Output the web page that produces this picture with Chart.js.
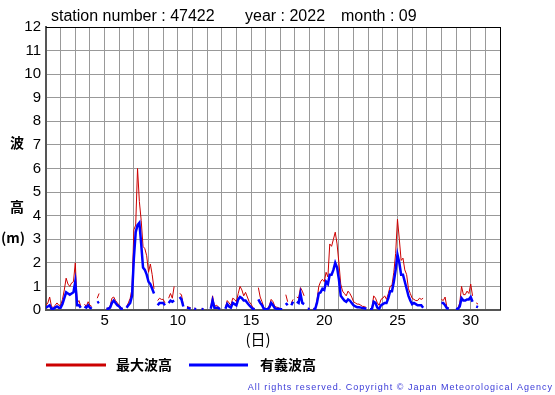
<!DOCTYPE html>
<html>
<head>
<meta charset="utf-8">
<script src="https://cdn.jsdelivr.net/npm/chart.js@4"></script>
<style>
  html, body { margin: 0; padding: 0; background: #fff; }
  #wave { display: block; }
</style>
</head>
<body>
<canvas id="wave" width="555" height="395"></canvas>
<script>
// 3-hourly readings, 8 per day, Sept 1 .. Sept 30 (null = no data)
const pointsPerDay = 8;
const firstDay = 1;

// 最大波高 (max wave height, m)
const maxWave = [
  0.2, 0.3, 0.55, 0.15, 0.1, 0.2, 0.3, 0.2,
  0.2, 0.45, 0.85, 1.35, 1.1, 1.0, 1.15, 1.2,
  2.0, 0.3, 0.4, 0.15, null, 0.25, 0.15, 0.35,
  0.2, 0.15, null, null, 0.5, 0.7, null, null,
  null, 0.05, 0.1, 0.15, 0.5, 0.55, 0.4, 0.3,
  0.2, 0.1, 0.05, null, 0.15, 0.3, 0.5, 0.9,
  3.4, 3.6, 6.0, 4.6, 3.8, 2.7, 2.6, 2.3,
  1.6, 1.95, 1.5, 0.9, null, 0.4, 0.5, 0.45,
  0.45, 0.3, null, 0.5, 0.7, 0.5, 1.0, null,
  null, 0.7, 0.65, 0.2, null, 0.15, 0.12, 0.1,
  null, 0.08, 0.05, null, null, 0.06, 0.05, null,
  null, null, 0.1, 0.6, 0.15, 0.2, 0.15, 0.05,
  null, null, 0.1, 0.4, 0.3, 0.2, 0.5, 0.45,
  0.35, 0.7, 1.0, 0.85, 0.6, 0.75, 0.55, 0.35,
  0.25, 0.1, 0.05, null, 0.95, 0.55, 0.35, 0.1,
  0.05, 0.05, 0.2, 0.45, 0.35, 0.15, 0.12, 0.1,
  0.05, 0.05, null, 0.65, 0.35, null, 0.3, 0.45,
  null, 0.55, 0.5, 0.95, 0.8, 0.6, null, 0.08,
  0.05, null, 0.06, 0.05, 0.4, 1.0, 1.2, 1.3,
  1.2, 1.6, 1.4, 2.8, 2.7, 3.0, 3.3, 2.8,
  2.0, 1.1, 0.8, 0.7, 0.6, 0.8, 0.7, 0.55,
  0.35, 0.3, 0.25, 0.25, 0.2, 0.15, 0.15, 0.1,
  null, 0.05, 0.05, 0.6, 0.5, 0.3, 0.2, 0.45,
  0.5, 0.6, 0.45, 0.7, 1.0, 1.05, 1.6, 2.4,
  3.85, 3.0, 2.1, 2.2, 1.7, 1.5, 0.9, 0.7,
  0.5, 0.45, 0.4, 0.4, 0.5, 0.45, 0.5, null,
  null, null, null, null, null, null, null, null,
  0.45, 0.4, 0.55, 0.1, 0.1, null, null, null,
  0.05, 0.08, 0.3, 1.0, 0.65, 0.65, 0.8, 0.7,
  1.1, 0.6, null, 0.3, 0.25, null, null, null
];

// 有義波高 (significant wave height, m)
const sigWave = [
  0.1, 0.15, 0.2, 0.05, 0.05, 0.1, 0.15, 0.1,
  0.1, 0.25, 0.5, 0.75, 0.7, 0.65, 0.7, 0.75,
  1.2, 0.2, 0.2, 0.1, null, 0.15, 0.1, 0.2,
  0.1, 0.05, null, null, 0.3, 0.35, null, null,
  null, 0.05, 0.05, 0.1, 0.3, 0.4, 0.3, 0.2,
  0.15, 0.05, 0.05, null, 0.1, 0.2, 0.3, 0.6,
  2.2, 3.3, 3.6, 3.7, 2.8, 1.8, 1.7, 1.5,
  1.2, 1.1, 0.9, 0.7, null, 0.2, 0.3, 0.3,
  0.3, 0.2, null, 0.3, 0.4, 0.35, 0.4, null,
  null, 0.55, 0.45, 0.15, null, 0.1, 0.08, 0.05,
  null, 0.05, 0.03, null, null, 0.04, 0.03, null,
  null, null, 0.05, 0.4, 0.1, 0.1, 0.1, 0.03,
  null, null, 0.05, 0.25, 0.15, 0.1, 0.3, 0.25,
  0.2, 0.45, 0.55, 0.5, 0.4, 0.4, 0.3, 0.2,
  0.12, 0.05, 0.03, null, 0.45, 0.3, 0.2, 0.05,
  0.03, 0.03, 0.1, 0.3, 0.2, 0.08, 0.05, 0.05,
  0.03, 0.03, null, 0.3, 0.2, null, 0.2, 0.35,
  null, 0.35, 0.3, 0.7, 0.3, 0.25, null, 0.05,
  0.03, null, 0.04, 0.03, 0.3, 0.7, 0.75, 0.9,
  0.85, 1.2, 1.1, 1.5, 1.5, 1.7, 2.0, 1.8,
  1.3, 0.6, 0.5, 0.4, 0.35, 0.45, 0.4, 0.3,
  0.2, 0.15, 0.12, 0.12, 0.1, 0.08, 0.07, 0.05,
  null, 0.03, 0.03, 0.35, 0.3, 0.1, 0.05, 0.2,
  0.25, 0.3, 0.3, 0.5, 0.8, 0.8, 1.2, 1.7,
  2.35, 2.0, 1.5, 1.5, 1.2, 0.9, 0.6, 0.4,
  0.25, 0.3, 0.25, 0.2, 0.2, 0.2, 0.1, null,
  null, null, null, null, null, null, null, null,
  0.3, 0.3, 0.2, 0.08, 0.05, null, null, null,
  0.03, 0.05, 0.15, 0.5, 0.4, 0.4, 0.45, 0.45,
  0.55, 0.35, null, 0.15, 0.12, null, null, null
];

const xTickLabels = [5, 10, 15, 20, 25, 30];
const xMin = 1, xMax = 32;
const yMin = 0, yMax = 12;

const titleParts = ['station number : 47422', 'year : 2022', 'month : 09'];
const legendLabels = ['最大波高', '有義波高'];
const copyright = 'All rights reserved. Copyright © Japan Meteorological Agency';

function toPoints(values) {
    return values.map((v, i) => ({ x: firstDay + i / pointsPerDay, y: v }));
}

const CJK = '"Noto Sans CJK JP", sans-serif';
const LATIN = '"Liberation Sans", Arial, sans-serif';

// extra texts: title, axis captions, legend, credit line
const decorations = {
    id: 'decorations',
    afterDraw(chart) {
        const ctx = chart.ctx;
        ctx.save();
        ctx.fillStyle = '#000';
        ctx.textBaseline = 'middle';
        ctx.textAlign = 'left';
        ctx.font = '16px ' + LATIN;
        ctx.fillText(titleParts[0], 51, 17);
        ctx.fillText(titleParts[1], 245, 17);
        ctx.fillText(titleParts[2], 341, 17);

        ctx.textAlign = 'center';
        ctx.font = 'bold 14px ' + CJK;
        ctx.fillText('波', 17, 143);
        ctx.fillText('高', 17, 207);
        ctx.font = 'bold 14px ' + CJK;
        ctx.fillText('(m)', 13, 238);
        ctx.font = '15px ' + CJK;
        ctx.fillText('(日)', 258, 339);

        // legend
        ctx.lineWidth = 3;
        ctx.strokeStyle = '#cc0000';
        ctx.beginPath(); ctx.moveTo(46, 365); ctx.lineTo(106, 365); ctx.stroke();
        ctx.strokeStyle = '#0000ff';
        ctx.beginPath(); ctx.moveTo(189, 365); ctx.lineTo(248, 365); ctx.stroke();
        ctx.textAlign = 'left';
        ctx.font = 'bold 14px ' + CJK;
        ctx.fillText(legendLabels[0], 116, 365);
        ctx.fillText(legendLabels[1], 260, 365);

        // credit
        ctx.font = '9px ' + LATIN;
        ctx.fillStyle = '#3a3ad8';
        ctx.letterSpacing = '1px';
        ctx.textAlign = 'right';
        ctx.fillText(copyright, 553, 388);
        ctx.restore();
    }
};

// top and right frame lines in black
const frame = {
    id: 'frame',
    afterDatasetsDraw(chart) {
        const a = chart.chartArea;
        const ctx = chart.ctx;
        ctx.save();
        ctx.strokeStyle = '#000';
        ctx.lineWidth = 1;
        ctx.beginPath();
        ctx.moveTo(a.left, a.top + 0.5);
        ctx.lineTo(a.right + 0.5, a.top + 0.5);
        ctx.lineTo(a.right + 0.5, a.bottom);
        ctx.stroke();
        ctx.restore();
    }
};

document.addEventListener('DOMContentLoaded', function() {
    const el = document.getElementById('wave');
    new Chart(el.getContext('2d'), {
        type: 'line',
        data: {
            datasets: [{
                label: legendLabels[1],
                data: toPoints(sigWave),
                borderColor: '#0000ff',
                borderWidth: 2.5,
                pointRadius: 0,
                tension: 0,
                spanGaps: false
            }, {
                label: legendLabels[0],
                data: toPoints(maxWave),
                borderColor: '#cc0000',
                borderWidth: 1,
                pointRadius: 0,
                tension: 0,
                spanGaps: false
            }]
        },
        options: {
            responsive: false,
            animation: false,
            devicePixelRatio: 1,
            layout: { padding: { left: 0, top: 27, right: 55, bottom: 0 } },
            plugins: {
                legend: { display: false },
                tooltip: { enabled: false }
            },
            scales: {
                x: {
                    type: 'linear',
                    min: xMin,
                    max: xMax,
                    afterFit: s => { s.height = 85; },
                    afterBuildTicks: s => {
                        s.ticks = [];
                        for (let v = xMin; v <= xMax; v++) s.ticks.push({ value: v });
                    },
                    ticks: {
                        autoSkip: false,
                        maxRotation: 0,
                        padding: 2,
                        color: '#000',
                        font: { family: LATIN, size: 15 },
                        callback: v => xTickLabels.includes(v) ? String(v) : ''
                    },
                    grid: {
                        drawTicks: false,
                        color: c => c.tick && c.tick.value === xMax ? '#000' : '#999'
                    },
                    border: { display: true, color: '#555', width: 2 }
                },
                y: {
                    min: yMin,
                    max: yMax,
                    afterFit: s => { s.width = 46; },
                    ticks: {
                        stepSize: 1,
                        padding: 5,
                        color: '#000',
                        font: { family: LATIN, size: 15 }
                    },
                    grid: {
                        drawTicks: false,
                        color: c => c.tick && c.tick.value === yMax ? '#000' : '#999'
                    },
                    border: { display: true, color: '#555', width: 2 }
                }
            }
        },
        plugins: [frame, decorations]
    });
});
</script>
</body>
</html>
